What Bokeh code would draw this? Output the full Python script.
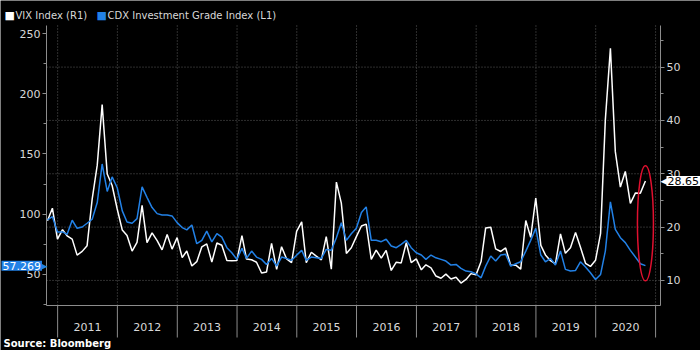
import pandas as pd
from bokeh.plotting import figure
from bokeh.models import Range1d, LinearAxis, DatetimeAxis, FixedTicker, DatetimeTickFormatter, Label
from bokeh.embed import file_html
from bokeh.resources import INLINE

# ---- data (monthly, month-end, Oct 2010 .. Oct 2020) ----
vix = [21.20, 23.54, 17.75,
       19.53, 18.35, 17.74, 14.75, 15.45, 16.52, 25.25, 31.62, 42.96, 29.96, 27.80, 23.40,
       19.44, 18.43, 15.50, 17.15, 24.06, 17.08, 18.93, 17.47, 15.73, 18.60, 15.87, 18.02,
       14.28, 15.51, 12.70, 13.52, 16.30, 16.86, 13.45, 17.01, 16.60, 13.75, 13.70, 13.72,
       18.41, 14.00, 13.88, 13.41, 11.40, 11.57, 16.95, 12.09, 16.31, 14.03, 13.33, 19.20,
       20.97, 13.34, 15.29, 14.55, 13.84, 18.23, 12.12, 28.43, 24.50, 15.07, 16.13, 18.21,
       20.20, 20.55, 13.95, 15.70, 14.19, 15.63, 11.87, 13.42, 13.29, 17.06, 13.33, 14.04,
       11.99, 12.92, 12.37, 10.82, 10.41, 11.18, 10.26, 10.59, 9.51, 10.18, 11.28, 11.04,
       13.54, 19.85, 19.97, 15.93, 15.43, 16.09, 12.83, 12.86, 12.12, 21.23, 18.07, 25.42,
       16.57, 14.78, 13.71, 13.12, 18.71, 15.08, 16.12, 18.98, 16.24, 13.22, 12.62, 13.78,
       18.84, 40.11, 53.54, 34.15, 27.51, 30.43, 24.46, 26.41, 26.37, 28.65]

cdx = [95.2, 98.0, 85.2,
       85.3, 83.3, 95.0, 88.3, 89.4, 92.5, 95.8, 109.7, 141.7, 118.9, 131.0, 122.0,
       102.8, 93.6, 92.5, 96.3, 122.7, 114.0, 105.5, 100.5, 99.4, 99.4, 98.6, 93.0,
       88.9, 87.0, 91.0, 75.5, 78.3, 86.0, 77.0, 83.8, 81.0, 72.2, 68.0, 62.5,
       71.7, 63.3, 69.4, 64.4, 62.5, 58.3, 63.3, 56.9, 64.4, 63.3, 61.7, 66.0,
       70.0, 61.7, 64.4, 63.8, 63.3, 70.8, 70.0, 80.5, 93.0, 78.3, 83.8, 88.3,
       101.4, 106.1, 78.3, 78.3, 77.2, 79.2, 73.6, 72.2, 75.0, 78.3, 72.2, 68.0,
       66.1, 62.5, 66.1, 63.8, 62.5, 61.1, 57.8, 58.3, 55.0, 52.8, 52.2, 50.5,
       47.2, 56.9, 65.3, 61.1, 66.1, 66.7, 56.9, 58.9, 60.5, 69.4, 78.3, 88.3,
       66.1, 60.5, 63.3, 57.8, 69.4, 54.2, 52.8, 53.3, 60.5, 56.1, 51.4, 45.8,
       50.0, 69.4, 110.3, 87.5, 80.5, 76.4, 70.0, 64.4, 58.9, 57.269]

years = list(range(2011, 2021))
left_ticks = [50, 100, 150, 200, 250]
left_minor = [25, 75, 125, 175, 225]
right_ticks = [10, 20, 30, 40, 50]
right_minor = [15, 25, 35, 45, 55]

try:
    dates = pd.date_range("2010-10-31", periods=len(vix), freq="ME")
except ValueError:
    dates = pd.date_range("2010-10-31", periods=len(vix), freq="M")

def ms(ts):
    return pd.Timestamp(ts).timestamp() * 1000.0

year_mid = [ms(f"{y}-07-02") for y in years]
year_bounds = [ms(f"{y}-01-01") for y in years + [2021]]

# ---- layout constants (pixels) ----
W, H = 700, 350
PL, PR, PT, PB = 46, 660, 25, 305      # plot-area box inside the canvas
X0, X1 = ms("2010-10-25"), ms("2021-01-31")
L0, L1 = 24.2, 256.7                   # CDX (left) range inside plot box
R0, R1 = 5.3, 57.8                     # VIX (right) range inside plot box
YEAR_TICK_PX = 32

def extend(a, b, lo_px, hi_px, span_px):
    per = (b - a) / span_px
    return a - lo_px * per, b + hi_px * per

xs, xe = extend(X0, X1, PL, W - PR, PR - PL)
ls, le = extend(L0, L1, H - PB, PT, PB - PT)
rs, re_ = extend(R0, R1, H - PB, PT, PB - PT)
l_per_px = (L1 - L0) / (PB - PT)

FONT = "DejaVu Sans"
AX = "#8c8c8c"
TXT = "#d8d8d8"
BLUE = "#2281e6"
GRID = "#5c5c5c"

p = figure(width=W, height=H, output_backend="svg", toolbar_location=None,
           x_range=Range1d(xs, xe), y_range=Range1d(ls, le),
           x_axis_location=None, y_axis_location=None,
           min_border=0, min_border_left=0, min_border_right=0,
           min_border_top=0, min_border_bottom=0,
           background_fill_color="black", border_fill_color="black",
           outline_line_color=None)
p.extra_y_ranges = {"vix": Range1d(rs, re_)}
p.grid.visible = False

# dotted grid lines (year boundaries, right-axis major ticks)
n = len(year_bounds)
p.segment(x0=year_bounds, y0=[L0] * n, x1=year_bounds, y1=[L1] * n,
          line_color=GRID, line_dash="1 2", line_width=1)
p.segment(x0=[X0] * len(right_ticks), y0=right_ticks, x1=[X1] * len(right_ticks), y1=right_ticks,
          line_color=GRID, line_dash="1 2", line_width=1, y_range_name="vix")
# long year-separator ticks below the x axis
p.segment(x0=year_bounds, y0=[L0] * n, x1=year_bounds, y1=[L0 - YEAR_TICK_PX * l_per_px] * n,
          line_color=AX, line_width=1)

def style(ax):
    ax.axis_line_color = AX
    ax.major_tick_line_color = AX
    ax.minor_tick_line_color = AX
    ax.major_label_text_color = TXT
    ax.major_label_text_font = FONT
    ax.major_label_text_font_size = "11px"

# bottom axis
xa = DatetimeAxis(ticker=FixedTicker(ticks=year_mid),
                  formatter=DatetimeTickFormatter(years="%Y", months="%Y", days="%Y", hours="%Y",
                                                  minutes="%Y", seconds="%Y", milliseconds="%Y"),
                  fixed_location=L0, bounds=(X0, X1))
style(xa)
xa.major_tick_out = 0
xa.major_tick_in = 0
xa.minor_tick_out = 0
xa.minor_tick_in = 0
xa.major_label_standoff = 17
p.add_layout(xa, "below")

# left axis (CDX)
ya = LinearAxis(ticker=FixedTicker(ticks=left_ticks, minor_ticks=left_minor),
                fixed_location=X0, bounds=(L0, L1))
style(ya)
ya.major_tick_out = 4
ya.major_tick_in = 0
ya.minor_tick_out = 3
ya.minor_tick_in = 0
ya.major_label_standoff = 2
p.add_layout(ya, "left")

# right axis (VIX)
ra = LinearAxis(y_range_name="vix", ticker=FixedTicker(ticks=right_ticks, minor_ticks=right_minor),
                fixed_location=X1, bounds=(R0, R1))
style(ra)
ra.major_tick_out = 4
ra.major_tick_in = 0
ra.minor_tick_out = 3
ra.minor_tick_in = 0
ra.major_label_standoff = 2
p.add_layout(ra, "right")

# series
p.line(dates, vix, color="white", line_width=1.5, y_range_name="vix")
p.line(dates, cdx, color=BLUE, line_width=1.5)

# red ellipse around the latest values
frac = (cdx[-1] - L0) / (L1 - L0)
cdx_in_r = R0 + frac * (R1 - R0)
p.ellipse(x=[dates[-1]], y=[(vix[-1] + cdx_in_r) / 2], width=16, height=115,
          width_units="screen", height_units="screen", fill_color=None,
          line_color="#e0102f", line_width=1.5, y_range_name="vix")

# value tags
p.add_layout(Label(x=1, y=cdx[-1], x_units="screen", y_units="data",
                   text=f"{cdx[-1]:.3f}", text_color="white", text_font=FONT,
                   text_font_size="11px", text_baseline="middle",
                   background_fill_color=BLUE, padding=1))
p.add_layout(Label(x=40, y=cdx[-1], x_units="screen", y_units="data",
                   text="\u25B6", text_color=BLUE, text_font=FONT,
                   text_font_size="9px", text_baseline="middle"))
p.add_layout(Label(x=666, y=vix[-1], x_units="screen", y_units="data", y_range_name="vix",
                   text=f"{vix[-1]:.2f}", text_color="black", text_font=FONT,
                   text_font_size="11px", text_baseline="middle",
                   background_fill_color="white", padding=1))
p.add_layout(Label(x=660, y=vix[-1], x_units="screen", y_units="data", y_range_name="vix",
                   text="\u25C0", text_color="white", text_font=FONT,
                   text_font_size="9px", text_baseline="middle"))

# legend (manual)
def leg(x, txt, col):
    p.add_layout(Label(x=x, y=H - 15, x_units="screen", y_units="screen", text="\u25A0",
                       text_color=col, text_font=FONT, text_font_size="11px",
                       text_baseline="middle"))
    p.add_layout(Label(x=x + 11, y=H - 15, x_units="screen", y_units="screen", text=txt,
                       text_color=TXT, text_font=FONT, text_font_size="10px",
                       text_baseline="middle"))

leg(4, "VIX Index (R1)", "white")
leg(96, "CDX Investment Grade Index (L1)", BLUE)

p.add_layout(Label(x=3, y=7, x_units="screen", y_units="screen", text="Source: Bloomberg",
                   text_color="white", text_font=FONT, text_font_size="10px",
                   text_font_style="bold", text_baseline="middle"))

open("out.html", "w").write(file_html(p, INLINE))
